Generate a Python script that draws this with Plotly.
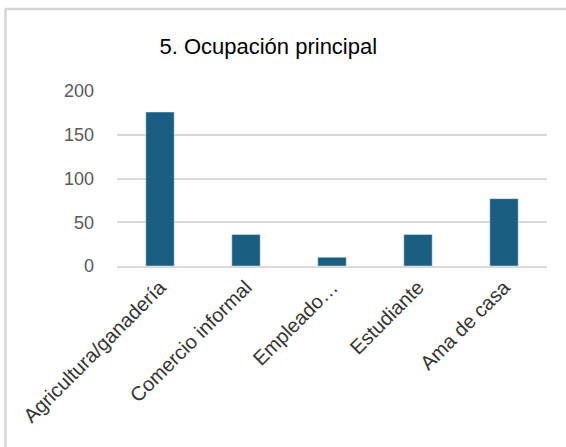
import plotly.graph_objects as go

categorias = ["Agricultura/ganadería", "Comercio informal", "Empleado…", "Estudiante", "Ama de casa"]
valores = [176, 36, 10, 36, 77]
ticks_y = [0, 50, 100, 150, 200]

color_barra = "#1a5e82"
gris_texto = "#595959"

fig = go.Figure(go.Bar(x=categorias, y=valores, marker_color=color_barra, width=0.33))

fig.update_layout(
    width=566, height=447,
    margin=dict(l=117, r=19, t=91, b=181),
    paper_bgcolor="white", plot_bgcolor="white",
    font=dict(family="Liberation Sans, Arial", color=gris_texto),
    title=dict(text="5. Ocupación principal", x=0.474, xanchor="center",
               y=1 - 46 / 447, yanchor="middle",
               font=dict(size=22, color="#000000")),
    showlegend=False,
)
fig.update_yaxes(range=[0, 200], tickvals=ticks_y, showgrid=True, gridcolor="#d9d9d9",
                 gridwidth=1.5, zeroline=False, showline=False,
                 tickfont=dict(size=18, color=gris_texto), ticks="",
                 ticklabelstandoff=22)
fig.update_xaxes(tickangle=-45, automargin=False, showline=True, linecolor="#d9d9d9",
                 linewidth=1.5, tickfont=dict(size=20, color="#333333"))

# marco recortado (solo borde superior e izquierdo visibles)
fig.add_shape(type="line", xref="paper", yref="paper", x0=-112 / 430, x1=450 / 430,
              y0=(266 - 9) / 175, y1=(266 - 9) / 175,
              line=dict(color="#d4d4d4", width=2.5))
fig.add_shape(type="line", xref="paper", yref="paper", x0=-111.5 / 430, x1=-111.5 / 430,
              y0=(266 - 9) / 175, y1=(266 - 460) / 175,
              line=dict(color="#d4d4d4", width=2.5))

fig.write_html("out.html", config={"displayModeBar": False},
               post_script="document.body.style.margin='0';")
